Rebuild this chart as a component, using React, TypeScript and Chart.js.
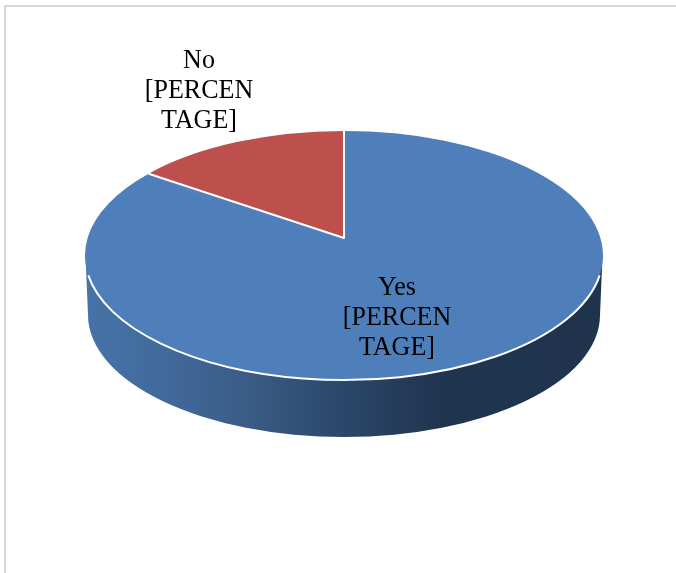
import React, { useEffect, useRef } from "react";
import { Chart, registerables } from "chart.js";

Chart.register(...registerables);

const categories = ["Yes", "No"];
const shares = [86.4, 13.6];
const sliceColors = ["#4f7fba", "#bd4f4d"];
const labelLines = [
  ["Yes", "[PERCEN", "TAGE]"],
  ["No", "[PERCEN", "TAGE]"],
];

const FONT = '28px "Liberation Serif", serif';
const TEXT_SQUEEZE = 0.93;
const TILT = 0.481;
const TOP_CY = 255.5;
const APEX_Y = 238;
const DEPTH_CY = 315;
const DEPTH_RX = 256;
const DEPTH_RY = 122;
const LABEL_X = [397, 199];
const LABEL_Y = [295, 68];
const LINE_STEP = 30;

const pie3d = {
  id: "pie3d",
  beforeDraw(chart: any) {
    const { ctx, width, height } = chart;
    ctx.save();
    ctx.fillStyle = "#ffffff";
    ctx.fillRect(0, 0, width, height);
    ctx.strokeStyle = "#d9d9d9";
    ctx.lineWidth = 2;
    ctx.beginPath();
    ctx.moveTo(5, height);
    ctx.lineTo(5, 6);
    ctx.lineTo(width, 6);
    ctx.stroke();
    ctx.restore();
  },
  beforeDatasetsDraw(chart: any) {
    const { ctx } = chart;
    const arc = chart.getDatasetMeta(0).data[0];
    const r = arc.outerRadius;
    ctx.save();
    const g = ctx.createLinearGradient(arc.x - r, 0, arc.x + r, 0);
    g.addColorStop(0, "#4674a8");
    g.addColorStop(0.16, "#41699a");
    g.addColorStop(0.3, "#3b5d88");
    g.addColorStop(0.5, "#2b4769");
    g.addColorStop(0.68, "#203550");
    g.addColorStop(1, "#1f334d");
    ctx.fillStyle = g;
    ctx.beginPath();
    ctx.ellipse(arc.x, DEPTH_CY, DEPTH_RX, DEPTH_RY, 0, 0, Math.PI);
    ctx.lineTo(arc.x - r + 0.5, TOP_CY);
    ctx.lineTo(arc.x + r - 0.5, TOP_CY);
    ctx.closePath();
    ctx.fill();
    ctx.translate(0, TOP_CY);
    ctx.scale(1, TILT);
    ctx.translate(0, -arc.y);
  },
  afterDatasetsDraw(chart: any) {
    const { ctx } = chart;
    ctx.restore();
    const meta = chart.getDatasetMeta(0);
    const yes = meta.data[0];
    const no = meta.data[1];
    const r = yes.outerRadius;
    const ry = r * TILT;
    const px = yes.x + r * Math.cos(no.startAngle);
    const py = TOP_CY + ry * Math.sin(no.startAngle);
    ctx.save();
    // the tilted view moves the slice tip up from the ellipse centre
    ctx.fillStyle = sliceColors[0];
    ctx.beginPath();
    ctx.moveTo(px, py);
    ctx.lineTo(yes.x, APEX_Y);
    ctx.lineTo(yes.x, TOP_CY + 1);
    ctx.closePath();
    ctx.fill();
    ctx.strokeStyle = "#ffffff";
    ctx.lineWidth = 2;
    ctx.lineJoin = "round";
    ctx.beginPath();
    ctx.moveTo(px, py);
    ctx.lineTo(yes.x, APEX_Y);
    ctx.lineTo(yes.x, TOP_CY - ry);
    ctx.stroke();
    ctx.beginPath();
    ctx.ellipse(yes.x, TOP_CY, r, ry, 0, 0.16, Math.PI - 0.16);
    ctx.stroke();
    ctx.fillStyle = "#000000";
    ctx.font = FONT;
    ctx.textAlign = "center";
    ctx.textBaseline = "alphabetic";
    labelLines.forEach((lines, i) => {
      lines.forEach((line, j) => {
        ctx.save();
        ctx.translate(LABEL_X[i], LABEL_Y[i] + j * LINE_STEP);
        ctx.scale(TEXT_SQUEEZE, 1);
        ctx.fillText(line, 0, 0);
        ctx.restore();
      });
    });
    ctx.restore();
  },
};

export default function App() {
  const ref = useRef<HTMLCanvasElement>(null);
  useEffect(() => {
    document.body.style.margin = "0";
    const chart = new Chart(ref.current!, {
      type: "pie",
      data: {
        labels: categories,
        datasets: [
          {
            data: shares,
            backgroundColor: sliceColors,
            borderWidth: 0,
            radius: 259,
          } as any,
        ],
      },
      options: {
        responsive: false,
        animation: false,
        layout: { padding: { left: 12 } },
        plugins: { legend: { display: false }, tooltip: { enabled: false } },
      },
      plugins: [pie3d],
    });
    return () => chart.destroy();
  }, []);
  return <canvas ref={ref} width={676} height={573} style={{ display: "block" }} />;
}
